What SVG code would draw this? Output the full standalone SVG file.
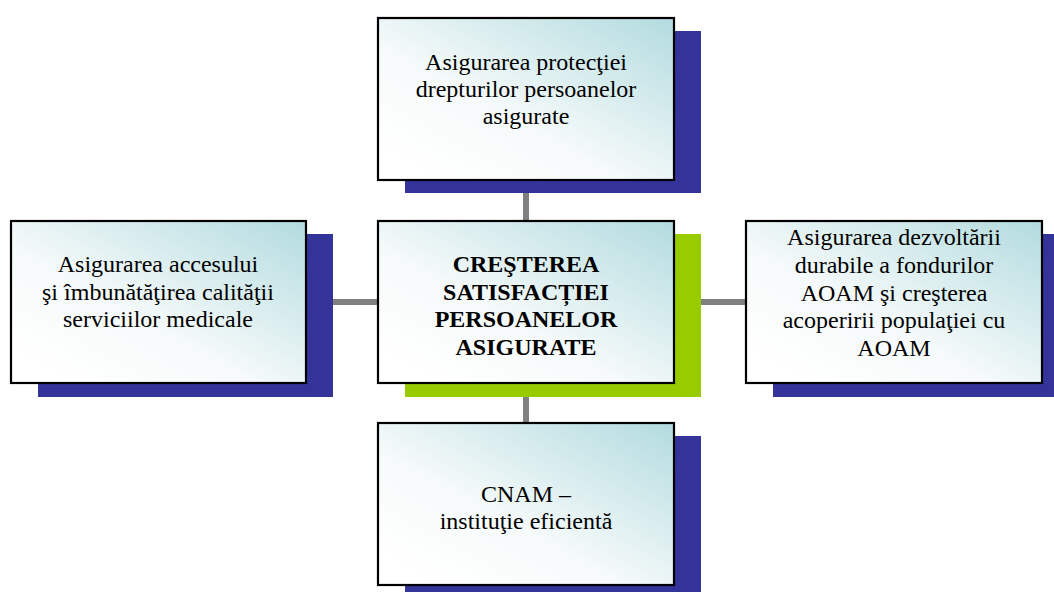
<svg xmlns="http://www.w3.org/2000/svg" width="1054" height="592" viewBox="0 0 1054 592">
<defs>
<linearGradient id="fill" x1="0.1" y1="0.9" x2="1" y2="0">
<stop offset="0" stop-color="#ffffff"/>
<stop offset="0.35" stop-color="#f6fafa"/>
<stop offset="1" stop-color="#b2dbdf"/>
</linearGradient>
</defs>
<style>
.conn{stroke:#808080;stroke-width:6;fill:none}
.box{fill:url(#fill);stroke:#000;stroke-width:2.2}
.sh{fill:#333399}
.shg{fill:#99cc00}
</style>
<rect width="1054" height="592" fill="#fff"/>
<g id="connectors">
<line class="conn" x1="526" y1="180" x2="526" y2="221"/>
<line class="conn" x1="526" y1="383" x2="526" y2="423"/>
<line class="conn" x1="306" y1="302" x2="378" y2="302"/>
<line class="conn" x1="674" y1="302" x2="746" y2="302"/>
</g>
<g font-family="'Liberation Serif', 'Times New Roman', serif" font-size="24" text-anchor="middle" fill="#000">
<g id="top">
<rect class="sh" x="405" y="31" width="296" height="162"/>
<rect class="box" x="378" y="18" width="296" height="162"/>
<text x="526" y="70">Asigurarea protecţiei</text>
<text x="526" y="97">drepturilor persoanelor</text>
<text x="526" y="124">asigurate</text>
</g>
<g id="center" font-weight="bold">
<rect class="shg" x="405" y="234" width="296" height="163"/>
<rect class="box" x="378" y="221" width="296" height="162"/>
<text x="526" y="272">CREŞTEREA</text>
<text x="526" y="300">SATISFACȚIEI</text>
<text x="526" y="327">PERSOANELOR</text>
<text x="526" y="355">ASIGURATE</text>
</g>
<g id="left">
<rect class="sh" x="38" y="234" width="295" height="163"/>
<rect class="box" x="11" y="221" width="295" height="162"/>
<text x="158" y="272">Asigurarea accesului</text>
<text x="158" y="300">şi îmbunătăţirea calităţii</text>
<text x="158" y="327">serviciilor medicale</text>
</g>
<g id="right">
<rect class="sh" x="773" y="234" width="296" height="163"/>
<rect class="box" x="746" y="221" width="296" height="162"/>
<text x="894" y="245">Asigurarea dezvoltării</text>
<text x="894" y="273">durabile a fondurilor</text>
<text x="894" y="301">AOAM şi creşterea</text>
<text x="894" y="328">acoperirii populaţiei cu</text>
<text x="894" y="356">AOAM</text>
</g>
<g id="bottom">
<rect class="sh" x="405" y="436" width="296" height="163"/>
<rect class="box" x="378" y="423" width="296" height="162"/>
<text x="526" y="502">CNAM –</text>
<text x="526" y="529">instituţie eficientă</text>
</g>
</g>
</svg>
